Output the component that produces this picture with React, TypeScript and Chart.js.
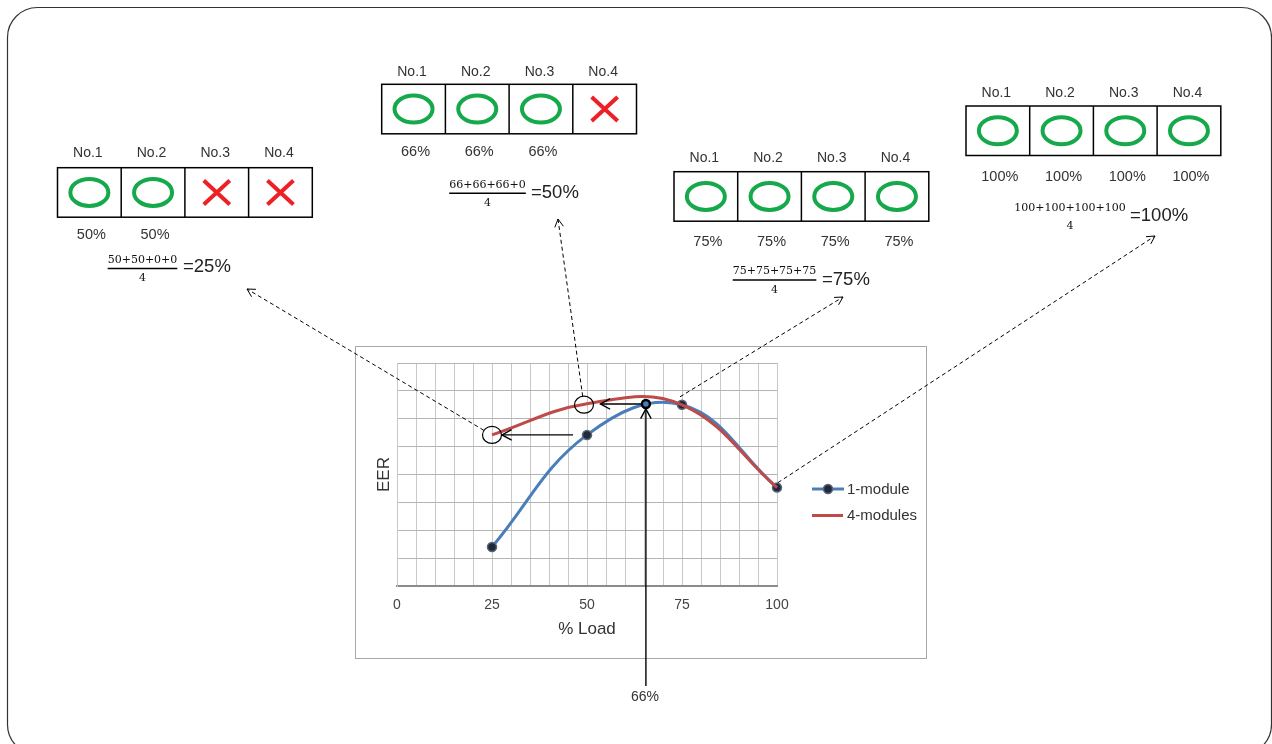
import React, { useEffect, useRef } from 'react';
import { Chart, registerables } from 'chart.js';

Chart.register(...registerables);

// ---------------- data ----------------
const xTickLabels = [0, 25, 50, 75, 100];
const oneModuleLoad = [25, 50, 75, 100];
const oneModuleEER = [1.4, 5.42, 6.5, 3.53];
const fourModulesLoad = [25, 50, 75, 100];
const fourModulesEER = [5.42, 6.54, 6.5, 3.53];
const operatingLoad = [65.5];
const operatingEER = [6.53];
const operatingLabel = '66%';

const moduleNames = ['No.1', 'No.2', 'No.3', 'No.4'];
const moduleOn = [
  [true, true, false, false],
  [true, true, true, false],
  [true, true, true, true],
  [true, true, true, true],
];
const moduleLoadLabels = [
  ['50%', '50%', '', ''],
  ['66%', '66%', '66%', ''],
  ['75%', '75%', '75%', '75%'],
  ['100%', '100%', '100%', '100%'],
];
const formulaNumerators = ['50+50+0+0', '66+66+66+0', '75+75+75+75', '100+100+100+100'];
const formulaDenominators = ['4', '4', '4', '4'];
const formulaResults = ['=25%', '=50%', '=75%', '=100%'];
const formulaHasBar = [true, true, true, false];

// ---------------- layout / style ----------------
const W = 1272;
const H = 744;
const FONT = '"Liberation Sans", Arial, Helvetica, sans-serif';
const SERIF = '"DejaVu Serif", "Liberation Serif", serif';
const BLUE = '#4a7ebb';
const RED = '#be4b48';
const GREEN = '#16a94b';
const CROSS = '#ee2027';
const MARKER_FILL = '#1e2a3c';
const MARKER_BORDER = '#5a6678';

const tableLayout = [
  { left: 57.5, top: 167.7, headDy: -15, pctDy: 17.7, fracX: 142.5, barY: 268.5, resX: 183, resY: 267 },
  { left: 381.7, top: 84.3, headDy: -12.6, pctDy: 17.7, fracX: 487.5, barY: 193.3, resX: 531, resY: 192.7 },
  { left: 674, top: 171.7, headDy: -13.4, pctDy: 20.3, fracX: 774.5, barY: 280, resX: 822, resY: 280 },
  { left: 966, top: 106, headDy: -12.7, pctDy: 21, fracX: 1070, barY: 216.5, resX: 1130, resY: 216 },
];
const CELL_W = 63.7;
const CELL_H = 49.5;

function openHead(ctx: CanvasRenderingContext2D, tx: number, ty: number, ang: number, len: number, spread: number) {
  ctx.beginPath();
  ctx.moveTo(tx - len * Math.cos(ang - spread), ty - len * Math.sin(ang - spread));
  ctx.lineTo(tx, ty);
  ctx.lineTo(tx - len * Math.cos(ang + spread), ty - len * Math.sin(ang + spread));
  ctx.stroke();
}

function arrow(ctx: CanvasRenderingContext2D, x0: number, y0: number, x1: number, y1: number, dashed: boolean, len: number, width: number) {
  ctx.save();
  ctx.strokeStyle = '#000';
  ctx.lineWidth = width;
  if (dashed) ctx.setLineDash([4, 3]);
  ctx.beginPath();
  ctx.moveTo(x0, y0);
  ctx.lineTo(x1, y1);
  ctx.stroke();
  ctx.setLineDash([]);
  const ang = Math.atan2(y1 - y0, x1 - x0);
  openHead(ctx, x1, y1, ang, len, 0.5);
  ctx.restore();
}

function marker(ctx: CanvasRenderingContext2D, x: number, y: number) {
  ctx.beginPath();
  ctx.arc(x, y, 4.5, 0, Math.PI * 2);
  ctx.fillStyle = MARKER_FILL;
  ctx.fill();
  ctx.lineWidth = 1.5;
  ctx.strokeStyle = MARKER_BORDER;
  ctx.stroke();
}

const decor = {
  id: 'decor',
  beforeDraw(chart: any) {
    const ctx: CanvasRenderingContext2D = chart.ctx;
    ctx.save();
    ctx.fillStyle = '#fff';
    ctx.fillRect(0, 0, W, H);
    // outer rounded frame
    ctx.strokeStyle = '#333';
    ctx.lineWidth = 1.2;
    ctx.beginPath();
    (ctx as any).roundRect(7.5, 7.5, 1264, 747, 30);
    ctx.stroke();
    // chart box
    ctx.strokeStyle = '#a8a8a8';
    ctx.lineWidth = 1;
    ctx.strokeRect(355.5, 346.5, 571, 312);
    ctx.restore();
  },
  afterDraw(chart: any) {
    const ctx: CanvasRenderingContext2D = chart.ctx;
    const xs = chart.scales.x;
    const ys = chart.scales.y;
    ctx.save();

    // circles on the 4-module curve
    const c1 = { x: xs.getPixelForValue(fourModulesLoad[0]), y: ys.getPixelForValue(fourModulesEER[0]) };
    const c2 = { x: xs.getPixelForValue(fourModulesLoad[1]) - 3, y: ys.getPixelForValue(fourModulesEER[1]) + 1 };
    ctx.strokeStyle = '#000';
    ctx.lineWidth = 1.2;
    [c1, c2].forEach((c) => {
      ctx.beginPath();
      ctx.ellipse(c.x, c.y, 9.5, 8.5, 0, 0, Math.PI * 2);
      ctx.stroke();
    });

    // solid arrows
    const b50 = { x: xs.getPixelForValue(oneModuleLoad[1]), y: ys.getPixelForValue(oneModuleEER[1]) };
    const op = { x: xs.getPixelForValue(operatingLoad[0]), y: ys.getPixelForValue(operatingEER[0]) };
    arrow(ctx, b50.x - 14, b50.y, c1.x + 10, b50.y, false, 11, 1.4);
    arrow(ctx, op.x - 5, op.y, c2.x + 16.5, op.y, false, 11, 1.4);
    arrow(ctx, op.x, 686, op.x, op.y + 5, false, 11, 1.4);

    // dashed arrows
    const t1 = { x: 247, y: 289 };
    const a1 = Math.atan2(t1.y - c1.y, t1.x - c1.x);
    arrow(ctx, c1.x + 9.5 * Math.cos(a1), c1.y + 9 * Math.sin(a1), t1.x, t1.y, true, 9, 1);
    const t2 = { x: 558, y: 219 };
    const a2 = Math.atan2(t2.y - c2.y, t2.x - c2.x);
    arrow(ctx, c2.x + 9.5 * Math.cos(a2), c2.y + 8.5 * Math.sin(a2), t2.x, t2.y, true, 9, 1);
    const p75 = { x: xs.getPixelForValue(oneModuleLoad[2]), y: ys.getPixelForValue(oneModuleEER[2]) };
    arrow(ctx, p75.x - 2, p75.y - 8, 843, 297, true, 9, 1);
    const p100 = { x: xs.getPixelForValue(oneModuleLoad[3]), y: ys.getPixelForValue(oneModuleEER[3]) };
    arrow(ctx, p100.x + 1, p100.y - 5, 1155, 236, true, 9, 1);

    // operating label
    ctx.fillStyle = '#333';
    ctx.font = `14px ${FONT}`;
    ctx.textAlign = 'center';
    ctx.textBaseline = 'middle';
    ctx.fillText(operatingLabel, op.x - 1, 697);

    // legend
    ctx.lineCap = 'butt';
    ctx.strokeStyle = BLUE;
    ctx.lineWidth = 3;
    ctx.beginPath();
    ctx.moveTo(812, 489);
    ctx.lineTo(844, 489);
    ctx.stroke();
    marker(ctx, 828, 489);
    ctx.strokeStyle = RED;
    ctx.lineWidth = 3;
    ctx.beginPath();
    ctx.moveTo(812, 515.5);
    ctx.lineTo(843, 515.5);
    ctx.stroke();
    ctx.fillStyle = '#333';
    ctx.font = `15px ${FONT}`;
    ctx.textAlign = 'left';
    ctx.fillText(chart.data.datasets[0].label, 847, 489.5);
    ctx.fillText(chart.data.datasets[1].label, 847, 516);

    // module tables
    tableLayout.forEach((t, ti) => {
      ctx.strokeStyle = '#000';
      ctx.lineWidth = 1.5;
      ctx.strokeRect(t.left, t.top, CELL_W * 4, CELL_H);
      for (let k = 1; k < 4; k++) {
        ctx.beginPath();
        ctx.moveTo(t.left + k * CELL_W, t.top);
        ctx.lineTo(t.left + k * CELL_W, t.top + CELL_H);
        ctx.stroke();
      }
      for (let k = 0; k < 4; k++) {
        const cx = t.left + (k + 0.5) * CELL_W;
        const cy = t.top + CELL_H / 2;
        ctx.fillStyle = '#333';
        ctx.font = `14px ${FONT}`;
        ctx.textAlign = 'center';
        ctx.fillText(moduleNames[k], cx - 1.5, t.top + t.headDy);
        if (moduleOn[ti][k]) {
          ctx.strokeStyle = GREEN;
          ctx.lineWidth = 4;
          ctx.beginPath();
          ctx.ellipse(cx, cy, 19, 13.5, 0, 0, Math.PI * 2);
          ctx.stroke();
        } else {
          ctx.strokeStyle = CROSS;
          ctx.lineWidth = 4;
          ctx.beginPath();
          ctx.moveTo(cx - 13, cy - 12);
          ctx.lineTo(cx + 13, cy + 12);
          ctx.moveTo(cx + 13, cy - 12);
          ctx.lineTo(cx - 13, cy + 12);
          ctx.stroke();
        }
        const lbl = moduleLoadLabels[ti][k];
        if (lbl) {
          ctx.fillStyle = '#333';
          ctx.font = `14.5px ${FONT}`;
          ctx.fillText(lbl, cx + 2, t.top + CELL_H + t.pctDy);
        }
      }
      // formula
      ctx.fillStyle = '#111';
      ctx.font = `11px ${SERIF}`;
      ctx.textAlign = 'center';
      ctx.fillText(formulaNumerators[ti], t.fracX, t.barY - 8.5);
      ctx.fillText(formulaDenominators[ti], t.fracX, t.barY + 10);
      if (formulaHasBar[ti]) {
        const wNum = ctx.measureText(formulaNumerators[ti]).width;
        ctx.strokeStyle = '#000';
        ctx.lineWidth = 1.4;
        ctx.beginPath();
        ctx.moveTo(t.fracX - wNum / 2, t.barY);
        ctx.lineTo(t.fracX + wNum / 2, t.barY);
        ctx.stroke();
      }
      ctx.fillStyle = '#222';
      ctx.font = `18.5px ${FONT}`;
      ctx.textAlign = 'left';
      ctx.fillText(formulaResults[ti], t.resX, t.resY);
    });

    ctx.restore();
  },
};

export default function App() {
  const ref = useRef<HTMLCanvasElement>(null);
  useEffect(() => {
    const canvas = ref.current;
    if (!canvas) return;
    const chart = new Chart(canvas, {
      type: 'line',
      data: {
        datasets: [
          {
            label: '1-module',
            data: oneModuleLoad.map((x, i) => ({ x, y: oneModuleEER[i] })),
            borderColor: BLUE,
            borderWidth: 3,
            tension: 0.4,
            fill: false,
            clip: false,
            pointRadius: 4.5,
            pointBackgroundColor: MARKER_FILL,
            pointBorderColor: MARKER_BORDER,
            pointBorderWidth: 1.5,
            order: 2,
          },
          {
            label: '4-modules',
            data: fourModulesLoad.map((x, i) => ({ x, y: fourModulesEER[i] })),
            borderColor: RED,
            borderWidth: 3,
            tension: 0.4,
            fill: false,
            clip: false,
            pointRadius: 0,
            order: 1,
          },
          {
            label: 'operating point',
            data: operatingLoad.map((x, i) => ({ x, y: operatingEER[i] })),
            showLine: false,
            clip: false,
            pointRadius: 4,
            pointBorderWidth: 2.5,
            pointBorderColor: '#000',
            pointBackgroundColor: BLUE,
            order: 0,
          },
        ],
      } as any,
      options: {
        responsive: false,
        animation: false,
        events: [],
        devicePixelRatio: 1,
        layout: { padding: { left: 367, top: 363, right: W - 777, bottom: 100 } },
        plugins: { legend: { display: false }, tooltip: { enabled: false } },
        scales: {
          x: {
            type: 'linear',
            min: 0,
            max: 100,
            ticks: {
              stepSize: 5,
              autoSkip: false,
              maxRotation: 0,
              padding: 10.5,
              color: '#444',
              font: { family: FONT, size: 14 },
              callback: (v: any) => (xTickLabels.includes(Number(v)) ? String(v) : ''),
            },
            grid: { color: '#c8c8c8', lineWidth: 1, drawTicks: false },
            border: { color: '#8c8c8c', width: 2 },
            title: {
              display: true,
              text: '% Load',
              color: '#333',
              font: { family: FONT, size: 17 },
              padding: { top: 0, bottom: 4 },
            },
            afterFit: (s: any) => {
              s.height = 58;
            },
          },
          y: {
            type: 'linear',
            min: 0,
            max: 8,
            ticks: { display: false, stepSize: 1 },
            grid: { color: '#b4b4b4', lineWidth: 1, drawTicks: false },
            border: { color: '#c8c8c8', width: 1 },
            title: {
              display: true,
              text: 'EER',
              color: '#333',
              font: { family: FONT, size: 17 },
              padding: { top: 7, bottom: 0 },
            },
            afterFit: (s: any) => {
              s.width = 30;
            },
          },
        },
      } as any,
      plugins: [decor],
    });
    return () => chart.destroy();
  }, []);
  return (
    <div style={{ position: 'fixed', left: 0, top: 0, width: W, height: H, background: '#fff' }}>
      <canvas ref={ref} width={W} height={H} style={{ width: W, height: H, display: 'block' }} />
    </div>
  );
}
